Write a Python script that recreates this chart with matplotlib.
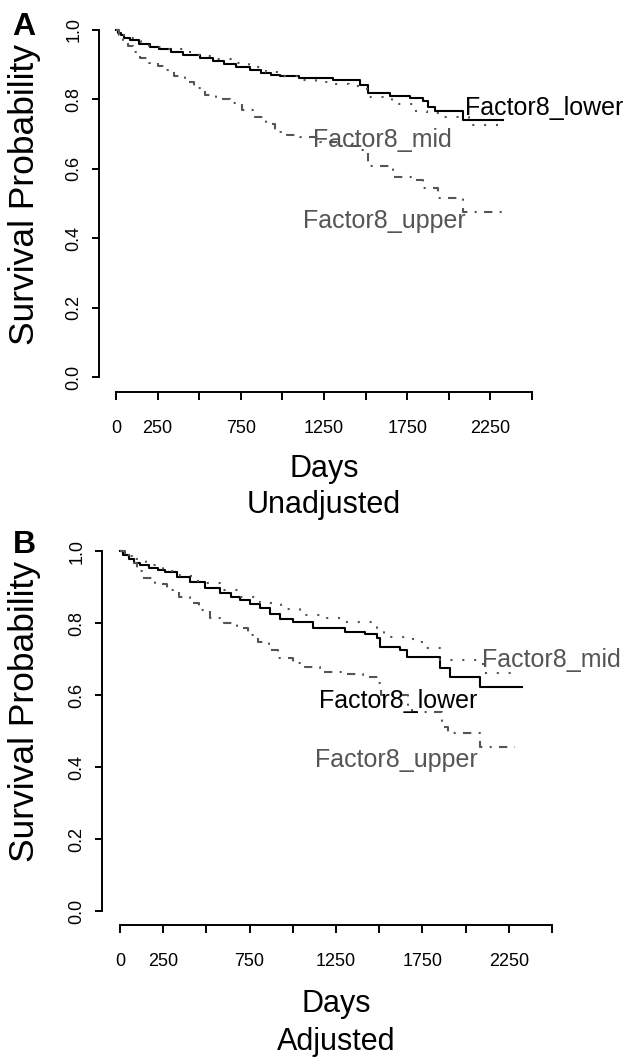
import matplotlib
matplotlib.use("Agg")
import matplotlib.pyplot as plt

plt.rcParams['font.family'] = ['Liberation Sans', 'DejaVu Sans']

# Panel A (unadjusted) - Kaplan-Meier steps
a_lower_days = [0, 15, 30, 50, 84, 140, 204, 260, 330, 400, 505, 580, 650, 720, 805, 870, 930, 986, 1100, 1304, 1466, 1514, 1647, 1767, 1845, 1875, 1917, 2085, 2326]
a_lower_surv = [1.0, 0.992, 0.985, 0.978, 0.971, 0.961, 0.951, 0.944, 0.936, 0.928, 0.919, 0.911, 0.902, 0.894, 0.885, 0.876, 0.870, 0.867, 0.862, 0.856, 0.841, 0.818, 0.810, 0.804, 0.795, 0.778, 0.767, 0.741, 0.741]

a_mid_days = [0, 20, 50, 100, 150, 200, 300, 400, 500, 600, 700, 800, 900, 1000, 1100, 1200, 1310, 1400, 1510, 1660, 1785, 1870, 1945, 2120, 2296]
a_mid_surv = [1.0, 0.985, 0.978, 0.968, 0.960, 0.952, 0.944, 0.936, 0.926, 0.916, 0.905, 0.893, 0.879, 0.866, 0.857, 0.850, 0.845, 0.838, 0.807, 0.787, 0.768, 0.760, 0.749, 0.726, 0.726]

a_upper_days = [0, 20, 42, 70, 100, 144, 200, 250, 294, 350, 415, 470, 535, 600, 685, 760, 835, 900, 956, 1030, 1106, 1226, 1350, 1466, 1514, 1665, 1779, 1845, 1935, 2085, 2326]
a_upper_surv = [1.0, 0.985, 0.971, 0.955, 0.938, 0.919, 0.905, 0.895, 0.885, 0.868, 0.850, 0.832, 0.813, 0.800, 0.790, 0.770, 0.749, 0.728, 0.706, 0.698, 0.692, 0.677, 0.665, 0.654, 0.608, 0.576, 0.568, 0.545, 0.516, 0.476, 0.476]

# Panel B (adjusted)
b_lower_days = [0, 20, 50, 80, 116, 170, 220, 260, 330, 405, 490, 579, 640, 694, 750, 810, 870, 926, 1000, 1117, 1302, 1420, 1487, 1505, 1620, 1661, 1852, 1910, 2083, 2326]
b_lower_surv = [1.0, 0.990, 0.978, 0.968, 0.961, 0.953, 0.946, 0.942, 0.928, 0.914, 0.898, 0.883, 0.873, 0.864, 0.853, 0.842, 0.826, 0.810, 0.802, 0.785, 0.775, 0.770, 0.758, 0.733, 0.725, 0.706, 0.675, 0.650, 0.622, 0.622]

b_mid_days = [0, 30, 80, 150, 250, 350, 450, 579, 700, 810, 930, 1042, 1200, 1300, 1490, 1525, 1696, 1760, 1852, 2100, 2297]
b_mid_surv = [1.0, 0.990, 0.978, 0.962, 0.945, 0.930, 0.912, 0.892, 0.872, 0.856, 0.838, 0.822, 0.814, 0.803, 0.786, 0.761, 0.747, 0.731, 0.697, 0.661, 0.661]

b_upper_days = [0, 30, 69, 100, 133, 200, 272, 340, 405, 460, 521, 600, 677, 740, 799, 860, 914, 1000, 1071, 1157, 1300, 1406, 1493, 1510, 1667, 1690, 1863, 1900, 2083, 2286]
b_upper_surv = [1.0, 0.985, 0.967, 0.945, 0.925, 0.908, 0.892, 0.873, 0.856, 0.836, 0.814, 0.800, 0.786, 0.766, 0.747, 0.725, 0.703, 0.690, 0.678, 0.664, 0.657, 0.650, 0.633, 0.600, 0.570, 0.553, 0.511, 0.494, 0.456, 0.456]

x_ticks = [0, 250, 500, 750, 1000, 1250, 1500, 1750, 2000, 2250, 2500]
x_tick_labels = ["0", "250", "", "750", "", "1250", "", "1750", "", "2250", ""]
y_ticks = [0.0, 0.2, 0.4, 0.6, 0.8, 1.0]
y_tick_labels = ["0.0", "0.2", "0.4", "0.6", "0.8", "1.0"]

GRAY = "#555555"
W, H = 625, 1057

fig = plt.figure(figsize=(W / 100, H / 100), dpi=100)


def px_box(left, top, right, bottom):
    return [left / W, 1 - bottom / H, (right - left) / W, (bottom - top) / H]


def draw_panel(box, lower, mid, upper, left_off, bottom_off, labels):
    ax = fig.add_axes(box)
    ax.step(lower[0], lower[1], where="post", color="black", lw=1.5, clip_on=False)
    ax.step(mid[0], mid[1], where="post", color=GRAY, lw=1.5,
            linestyle=(0, (1, 4.7)), clip_on=False)
    ax.step(upper[0], upper[1], where="post", color=GRAY, lw=1.5,
            linestyle=(0, (4, 3.5, 1, 3.5)), clip_on=False)

    ax.set_xlim(0, 2500)
    ax.set_ylim(0, 1)
    for s in ["top", "right"]:
        ax.spines[s].set_visible(False)
    ax.spines["left"].set_position(("outward", left_off))
    ax.spines["bottom"].set_position(("outward", bottom_off))
    ax.spines["left"].set_bounds(0, 1)
    ax.spines["bottom"].set_bounds(0, 2500)
    ax.spines["left"].set_linewidth(1.4)
    ax.spines["bottom"].set_linewidth(1.4)

    ax.set_xticks(x_ticks)
    ax.set_xticklabels(x_tick_labels, fontsize=13)
    ax.set_yticks(y_ticks)
    ax.set_yticklabels(y_tick_labels, fontsize=13, rotation=90, va="center")
    ax.tick_params(axis="x", length=6, width=1.4, pad=14)
    ax.tick_params(axis="y", length=5, width=1.4, pad=7)

    for txt, x, y, col in labels:
        ax.text(x, y, txt, color=col, fontsize=18, ha="left", va="baseline")
    return ax


draw_panel(px_box(116, 30, 532, 377),
           (a_lower_days, a_lower_surv), (a_mid_days, a_mid_surv), (a_upper_days, a_upper_surv),
           12, 11,
           [("Factor8_lower", 2097, 0.755, "black"),
            ("Factor8_mid", 1184, 0.663, GRAY),
            ("Factor8_upper", 1124, 0.429, GRAY)])

draw_panel(px_box(120, 551, 552, 911),
           (b_lower_days, b_lower_surv), (b_mid_days, b_mid_surv), (b_upper_days, b_upper_surv),
           13, 10,
           [("Factor8_mid", 2095, 0.678, GRAY),
            ("Factor8_lower", 1152, 0.564, "black"),
            ("Factor8_upper", 1128, 0.400, GRAY)])

# panel letters, axis titles
fig.text(24 / W, 1 - 35 / H, "A", fontsize=23, weight="bold", ha="center", va="baseline")
fig.text(24 / W, 1 - 553 / H, "B", fontsize=23, weight="bold", ha="center", va="baseline")

fig.text(25 / W, 1 - 194 / H, "Survival Probability", fontsize=25.5, rotation=90,
         ha="center", va="center")
fig.text(25 / W, 1 - 711 / H, "Survival Probability", fontsize=25.5, rotation=90,
         ha="center", va="center")

fig.text(324 / W, 1 - 477 / H, "Days", fontsize=22, ha="center", va="baseline")
fig.text(324 / W, 1 - 513 / H, "Unadjusted", fontsize=22, ha="center", va="baseline")
fig.text(336 / W, 1 - 1012 / H, "Days", fontsize=22, ha="center", va="baseline")
fig.text(336 / W, 1 - 1050 / H, "Adjusted", fontsize=22, ha="center", va="baseline")

fig.savefig("out.png", dpi=100)
